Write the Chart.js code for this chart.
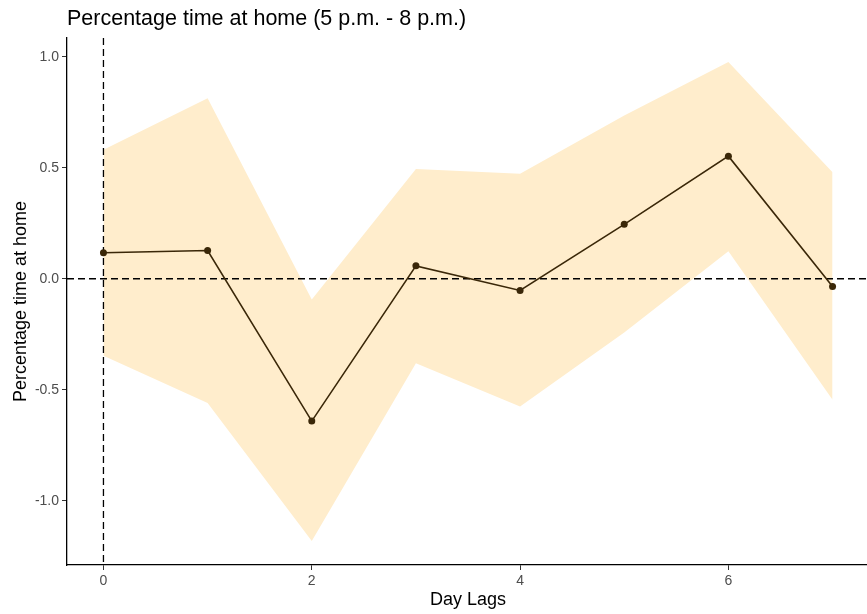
<!DOCTYPE html>
<html>
<head>
<meta charset="utf-8">
<script src="https://cdn.jsdelivr.net/npm/chart.js@4"></script>
<style>
  html, body { margin: 0; padding: 0; background: #ffffff; overflow: hidden; }
  #wrap { width: 867px; height: 614px; overflow: hidden; }
  canvas { display: block; }
</style>
</head>
<body>
<div id="wrap"><canvas id="lagChart" width="873" height="614"></canvas></div>
<script>
// Day lag estimates with confidence ribbon
const dayLags = [0, 1, 2, 3, 4, 5, 6, 7];
const estimate = [0.117, 0.127, -0.641, 0.058, -0.053, 0.245, 0.552, -0.035];
const upperCI = [0.581, 0.813, -0.093, 0.494, 0.473, 0.735, 0.976, 0.480];
const lowerCI = [-0.347, -0.560, -1.181, -0.380, -0.575, -0.242, 0.124, -0.545];
const xTicks = [0, 2, 4, 6];
const yTicks = [-1.0, -0.5, 0.0, 0.5, 1.0];

const chartTitle = 'Percentage time at home (5 p.m. - 8 p.m.)';
const xTitle = 'Day Lags';
const yTitle = 'Percentage time at home';

const toPoints = arr => dayLags.map((d, i) => ({ x: d, y: arr[i] }));

const FONT = "'Liberation Sans', Arial, sans-serif";
const lineColor = '#3a2708';
const ribbonColor = '#ffedcc';

// dashed reference lines at x = 0 and y = 0, drawn over the ribbon but under the line
const refLines = {
  id: 'refLines',
  beforeDatasetDraw(chart, args) {
    if (args.index !== 0) return;
    const { ctx, chartArea, scales } = chart;
    const x0 = scales.x.getPixelForValue(0);
    const y0 = scales.y.getPixelForValue(0);
    ctx.save();
    ctx.strokeStyle = '#000000';
    ctx.lineWidth = 1.3;
    ctx.setLineDash([7, 4]);
    ctx.beginPath();
    ctx.moveTo(chartArea.left, y0);
    ctx.lineTo(chartArea.right, y0);
    ctx.stroke();
    ctx.beginPath();
    ctx.moveTo(x0, chartArea.top);
    ctx.lineTo(x0, chartArea.bottom);
    ctx.stroke();
    ctx.restore();
  }
};

// title aligned to the left edge of the plot panel
const panelTitle = {
  id: 'panelTitle',
  afterDraw(chart) {
    const { ctx, chartArea } = chart;
    ctx.save();
    ctx.fillStyle = '#000000';
    ctx.font = '21.5px ' + FONT;
    ctx.textBaseline = 'middle';
    ctx.textAlign = 'left';
    ctx.fillText(chartTitle, chartArea.left, 19);
    ctx.restore();
  }
};

const ctx = document.getElementById('lagChart').getContext('2d');
const lagChart = new Chart(ctx, {
  type: 'line',
  data: {
    datasets: [
      {
        label: 'Estimate',
        data: toPoints(estimate),
        borderColor: lineColor,
        backgroundColor: lineColor,
        borderWidth: 1.6,
        pointRadius: 3.5,
        pointBorderWidth: 0,
        pointBackgroundColor: lineColor,
        fill: false,
        tension: 0
      },
      {
        label: 'Upper',
        data: toPoints(upperCI),
        borderWidth: 0,
        borderColor: 'rgba(0,0,0,0)',
        pointRadius: 0,
        backgroundColor: ribbonColor,
        fill: '+1',
        tension: 0
      },
      {
        label: 'Lower',
        data: toPoints(lowerCI),
        borderWidth: 0,
        borderColor: 'rgba(0,0,0,0)',
        pointRadius: 0,
        fill: false,
        tension: 0
      }
    ]
  },
  options: {
    responsive: false,
    animation: false,
    devicePixelRatio: 1,
    layout: { padding: { top: 38, right: 0, bottom: 0, left: 0 } },
    plugins: {
      legend: { display: false },
      title: { display: false },
      tooltip: { enabled: false }
    },
    scales: {
      x: {
        type: 'linear',
        min: -0.35,
        max: 7.35,
        afterBuildTicks: scale => { scale.ticks = xTicks.map(v => ({ value: v })); },
        afterFit: scale => {
          scale.height = 49;
          scale.paddingLeft = 0;
          scale.paddingRight = 0;
        },
        grid: { display: true, drawOnChartArea: false, drawTicks: true, tickLength: 5, color: '#333333', lineWidth: 1 },
        border: { display: true, color: '#000000', width: 1.3 },
        ticks: {
          color: '#4d4d4d',
          font: { family: FONT, size: 14 },
          padding: 3,
          maxRotation: 0,
          callback: v => String(v)
        },
        title: {
          display: true,
          text: xTitle,
          color: '#000000',
          font: { family: FONT, size: 18 },
          padding: { top: 0, bottom: 3 }
        }
      },
      y: {
        type: 'linear',
        min: -1.289,
        max: 1.084,
        afterBuildTicks: scale => { scale.ticks = yTicks.map(v => ({ value: v })); },
        afterFit: scale => {
          scale.width = 67;
          scale.paddingTop = 0;
          scale.paddingBottom = 0;
        },
        grid: { display: true, drawOnChartArea: false, drawTicks: true, tickLength: 5, color: '#333333', lineWidth: 1 },
        border: { display: true, color: '#000000', width: 1.3 },
        ticks: {
          color: '#4d4d4d',
          font: { family: FONT, size: 14 },
          padding: 3,
          callback: v => v.toFixed(1)
        },
        title: {
          display: true,
          text: yTitle,
          color: '#000000',
          font: { family: FONT, size: 18 },
          padding: { top: 10, bottom: 0 }
        }
      }
    }
  },
  plugins: [refLines, panelTitle]
});
</script>
</body>
</html>
